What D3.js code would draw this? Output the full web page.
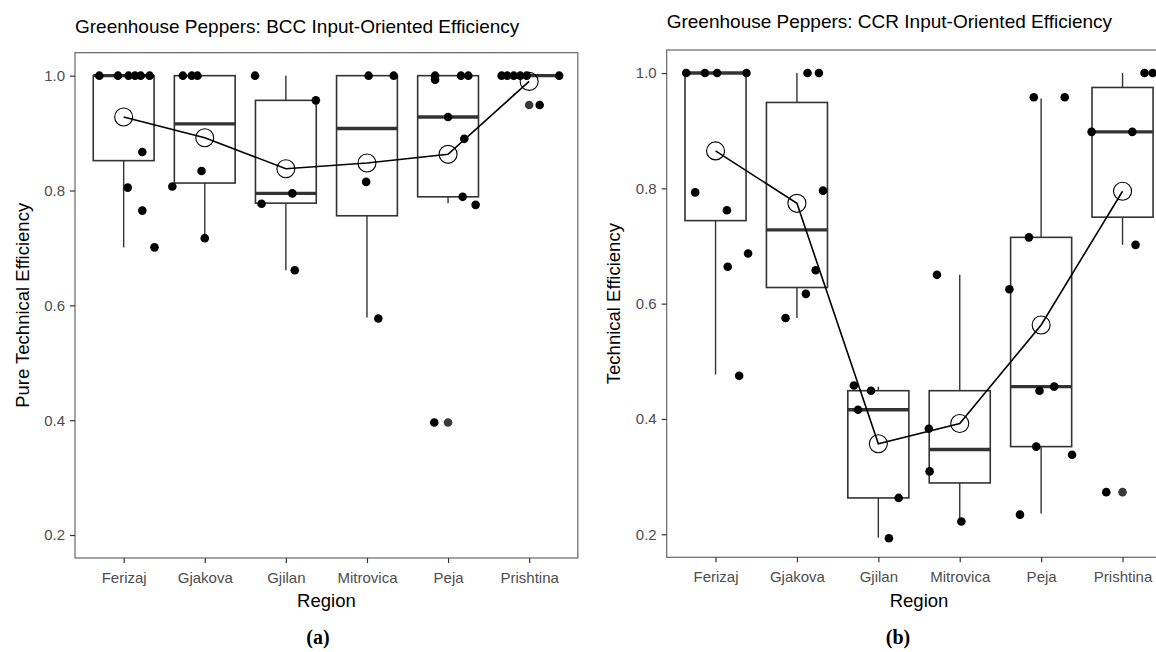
<!DOCTYPE html>
<html>
<head>
<meta charset="utf-8">
<script src="https://cdn.jsdelivr.net/npm/d3@7"></script>
<style>
body { margin: 0; background: #fff; }
svg { display: block; font-family: "Liberation Sans", Arial, sans-serif; }
</style>
</head>
<body>
<svg id="chart" width="1156" height="652"></svg>
<script>
var regions = ["Ferizaj", "Gjakova", "Gjilan", "Mitrovica", "Peja", "Prishtina"];
var yTicks = [0.2, 0.4, 0.6, 0.8, 1.0];

// BCC (pure technical efficiency) box stats
var bccLow    = [0.701, 0.717, 0.661, 0.579, 0.778, 1.0];
var bccQ1     = [0.852, 0.813, 0.778, 0.756, 0.789, 1.0];
var bccMedian = [1.0, 0.916, 0.795, 0.908, 0.928, 1.0];
var bccQ3     = [1.0, 1.0, 0.957, 1.0, 1.0, 1.0];
var bccHigh   = [1.0, 1.0, 1.0, 1.0, 1.0, 1.0];
var bccMean   = [0.928, 0.892, 0.838, 0.848, 0.863, 0.990];
var bccOutliers = [[4, 0.396], [5, 0.949]];
// jittered points: [region index, value, jitter]
var bccPoints = [
	[0, 1.0, -0.30], [0, 1.0, -0.07], [0, 1.0, 0.06], [0, 1.0, 0.14], [0, 1.0, 0.21], [0, 1.0, 0.32],
	[0, 0.867, 0.23], [0, 0.805, 0.05], [0, 0.765, 0.23], [0, 0.701, 0.38],
	[1, 1.0, -0.27], [1, 1.0, -0.16], [1, 1.0, -0.09], [1, 0.834, -0.04], [1, 0.807, -0.40], [1, 0.717, 0.0],
	[2, 1.0, -0.38], [2, 0.957, 0.37], [2, 0.795, 0.08], [2, 0.777, -0.30], [2, 0.661, 0.11],
	[3, 1.0, 0.02], [3, 1.0, 0.33], [3, 0.815, -0.01], [3, 0.577, 0.14],
	[4, 1.0, -0.16], [4, 0.993, -0.16], [4, 1.0, 0.16], [4, 1.0, 0.25], [4, 0.928, 0.0], [4, 0.890, 0.2],
	[4, 0.789, 0.18], [4, 0.775, 0.34], [4, 0.396, -0.17],
	[5, 1.0, -0.34], [5, 1.0, -0.27], [5, 1.0, -0.19], [5, 1.0, -0.11], [5, 1.0, -0.03], [5, 1.0, 0.37],
	[5, 0.949, 0.13]
];

// CCR (technical efficiency) box stats
var ccrLow    = [0.477, 0.575, 0.194, 0.222, 0.236, 0.702];
var ccrQ1     = [0.744, 0.628, 0.263, 0.289, 0.352, 0.750];
var ccrMedian = [1.0, 0.728, 0.416, 0.347, 0.456, 0.898];
var ccrQ3     = [1.0, 0.949, 0.449, 0.449, 0.715, 0.975];
var ccrHigh   = [1.0, 1.0, 0.456, 0.650, 0.956, 1.0];
var ccrMean   = [0.865, 0.774, 0.357, 0.392, 0.563, 0.795];
var ccrOutliers = [[5, 0.273]];
var ccrPoints = [
	[0, 1.0, -0.36], [0, 1.0, -0.13], [0, 1.0, 0.02], [0, 1.0, 0.38], [0, 0.793, -0.25], [0, 0.762, 0.14],
	[0, 0.687, 0.40], [0, 0.664, 0.15], [0, 0.475, 0.29],
	[1, 1.0, 0.13], [1, 1.0, 0.27], [1, 0.796, 0.32], [1, 0.658, 0.23], [1, 0.617, 0.11], [1, 0.575, -0.14],
	[2, 0.458, -0.30], [2, 0.449, -0.09], [2, 0.416, -0.25], [2, 0.263, 0.25], [2, 0.193, 0.13],
	[3, 0.650, -0.28], [3, 0.383, -0.38], [3, 0.309, -0.37], [3, 0.222, 0.02],
	[4, 0.958, -0.09], [4, 0.958, 0.29], [4, 0.715, -0.15], [4, 0.625, -0.39], [4, 0.456, 0.16],
	[4, 0.449, -0.02], [4, 0.352, -0.06], [4, 0.338, 0.38], [4, 0.234, -0.26],
	[5, 1.0, 0.27], [5, 1.0, 0.37], [5, 0.898, -0.38], [5, 0.898, 0.12], [5, 0.702, 0.16], [5, 0.273, -0.2]
];

var svg = d3.select("#chart");

function drawPanel(o) {
	var x = d3.scalePoint().domain(regions).range([o.left + 0.6 * o.step, o.left + 5.6 * o.step]);
	var y = d3.scaleLinear().domain([0.16, 1.04]).range([o.bottom, o.top]);
	var right = o.left + 6.2 * o.step;
	var bw = 0.75 * o.step;
	var g = svg.append("g");

	// panel border
	g.append("rect").attr("x", o.left).attr("y", o.top).attr("width", right - o.left).attr("height", o.bottom - o.top)
		.attr("fill", "none").attr("stroke", "#666").attr("stroke-width", 1.2);

	// axes
	var yAxis = g.append("g").attr("transform", "translate(" + o.left + ",0)")
		.call(d3.axisLeft(y).tickValues(yTicks).tickFormat(d3.format(".1f")).tickSize(5).tickPadding(5));
	var xAxis = g.append("g").attr("transform", "translate(0," + o.bottom + ")")
		.call(d3.axisBottom(x).tickSize(5).tickPadding(9));
	[yAxis, xAxis].forEach(function(a) {
		a.select(".domain").remove();
		a.selectAll(".tick line").attr("stroke", "#333").attr("stroke-width", 1.2);
		a.selectAll(".tick text").attr("fill", "#4d4d4d").style("font-size", "15px")
			.style("font-family", "Liberation Sans, Arial, sans-serif");
	});

	var boxes = g.append("g");
	regions.forEach(function(r, i) {
		var cx = x(r);
		boxes.append("line").attr("x1", cx).attr("x2", cx).attr("y1", y(o.q3[i])).attr("y2", y(o.high[i]))
			.attr("stroke", "#333").attr("stroke-width", 1.4);
		boxes.append("line").attr("x1", cx).attr("x2", cx).attr("y1", y(o.q1[i])).attr("y2", y(o.low[i]))
			.attr("stroke", "#333").attr("stroke-width", 1.4);
		boxes.append("rect").attr("x", cx - bw / 2).attr("width", bw)
			.attr("y", y(o.q3[i])).attr("height", y(o.q1[i]) - y(o.q3[i]))
			.attr("fill", "#fff").attr("stroke", "#333").attr("stroke-width", 1.6);
		boxes.append("line").attr("x1", cx - bw / 2).attr("x2", cx + bw / 2)
			.attr("y1", y(o.median[i])).attr("y2", y(o.median[i]))
			.attr("stroke", "#333").attr("stroke-width", 3.4);
	});

	// outliers from the boxplot
	g.selectAll(".outlier").data(o.outliers).enter().append("circle")
		.attr("cx", function(d) { return x(regions[d[0]]); })
		.attr("cy", function(d) { return y(d[1]); })
		.attr("r", 4.3).attr("fill", "#3a3a3a");

	// jittered observations
	g.selectAll(".pt").data(o.points).enter().append("circle")
		.attr("cx", function(d) { return x(regions[d[0]]) + d[2] * o.step; })
		.attr("cy", function(d) { return y(d[1]); })
		.attr("r", 4.3).attr("fill", "#000");

	// mean line and open circles
	var line = d3.line().x(function(d, i) { return x(regions[i]); }).y(function(d) { return y(d); });
	g.append("path").attr("d", line(o.mean)).attr("fill", "none").attr("stroke", "#000").attr("stroke-width", 1.6);
	g.selectAll(".mean").data(o.mean).enter().append("circle")
		.attr("cx", function(d, i) { return x(regions[i]); })
		.attr("cy", function(d) { return y(d); })
		.attr("r", 9).attr("fill", "none").attr("stroke", "#000").attr("stroke-width", 1.1);

	// texts
	g.append("text").attr("x", o.left).attr("y", o.titleY).text(o.title)
		.style("font-size", "19px").attr("fill", "#000");
	g.append("text").attr("transform", "translate(" + o.yLabelX + "," + ((o.top + o.bottom) / 2) + ") rotate(-90)")
		.attr("text-anchor", "middle").text(o.yLabel).style("font-size", "18.5px");
	g.append("text").attr("x", (o.left + right) / 2).attr("y", 607).attr("text-anchor", "middle")
		.text("Region").style("font-size", "18.5px");
	g.append("text").attr("x", o.tagX).attr("y", 644).attr("text-anchor", "middle").text(o.tag)
		.style("font-family", "Liberation Serif, serif").style("font-weight", "bold").style("font-size", "20px");
}

drawPanel({
	left: 75, top: 52.7, bottom: 558, step: 81.1, titleY: 33,
	title: "Greenhouse Peppers: BCC Input-Oriented Efficiency", yLabel: "Pure Technical Efficiency", yLabelX: 28.5,
	tag: "(a)", tagX: 318,
	low: bccLow, q1: bccQ1, median: bccMedian, q3: bccQ3, high: bccHigh, mean: bccMean,
	outliers: bccOutliers, points: bccPoints
});

drawPanel({
	left: 666.7, top: 50, bottom: 557.3, step: 81.4, titleY: 28,
	title: "Greenhouse Peppers: CCR Input-Oriented Efficiency", yLabel: "Technical Efficiency", yLabelX: 619.5,
	tag: "(b)", tagX: 898,
	low: ccrLow, q1: ccrQ1, median: ccrMedian, q3: ccrQ3, high: ccrHigh, mean: ccrMean,
	outliers: ccrOutliers, points: ccrPoints
});
</script>
</body>
</html>
